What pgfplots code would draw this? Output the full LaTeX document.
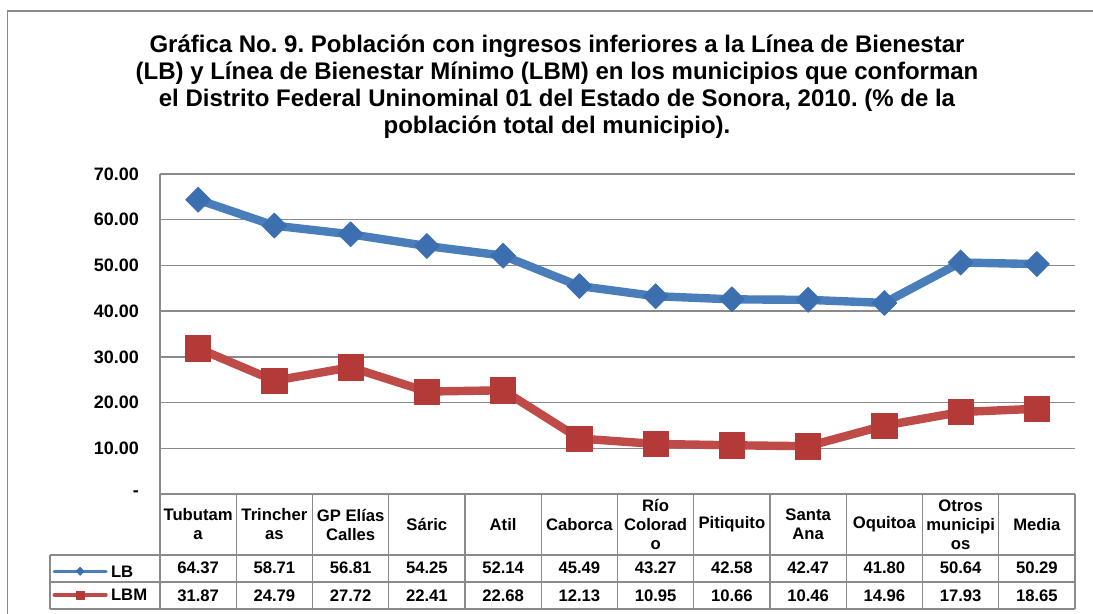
\documentclass[border=0pt]{standalone}
\usepackage{pgfplots}
\pgfplotsset{compat=1.18}
\usepackage{pgfplotstable}
\usepackage{fontspec}
\setmainfont{Liberation Sans}
\frenchspacing

\definecolor{lbblue}{HTML}{4A7EBB}
\definecolor{lbbluem}{HTML}{3C6FB0}
\definecolor{lbmred}{HTML}{BE4B48}
\definecolor{lbmredm}{HTML}{B43A37}
\definecolor{gridgray}{HTML}{8A8A8A}

% municipio index, LB, LBM (% de la poblacion)
\pgfplotstableread{
x  LB    LBM
0  64.37 31.87
1  58.71 24.79
2  56.81 27.72
3  54.25 22.41
4  52.14 22.68
5  45.49 12.13
6  43.27 10.95
7  42.58 10.66
8  42.47 10.46
9  41.80 14.96
10 50.64 17.93
11 50.29 18.65
}\datos

\tikzset{tabval/.style={font=\bfseries\fontsize{12.5}{14}\selectfont, inner sep=0pt}}

\begin{document}
\begin{tikzpicture}[x=0.75pt,y=0.75pt]
\useasboundingbox (0,0) rectangle (1093,614);
\draw[gridgray, line width=1pt] (7.5,0) -- (7.5,603) -- (1093,603);
\node[font=\bfseries\fontsize{18}{20.3}\selectfont, align=center] at (557,527)
  {Gráfica No. 9. Población con ingresos inferiores a la Línea de Bienestar\\
   (LB) y Línea de Bienestar Mínimo (LBM) en los municipios que conforman\\
   el Distrito Federal Uninominal 01 del Estado de Sonora, 2010. (\% de la\\
   población total del municipio).};
\begin{axis}[at={(120pt,90pt)}, anchor=south west, scale only axis,
  width=686.25pt, height=240pt, clip=false,
  xmin=-0.5, xmax=11.5, ymin=0, ymax=70,
  axis x line*=bottom, axis y line*=left,
  axis line style={gridgray, line width=1pt, -},
  major tick length=0pt,
  ymajorgrids, grid style={gridgray, line width=1pt},
  ytick={0,10,...,70},
  yticklabels={{-\hspace{7.5pt}},10.00,20.00,30.00,40.00,50.00,60.00,70.00},
  yticklabel style={font=\bfseries\fontsize{13.5}{15}\selectfont, xshift=-12.3pt},
  xtick={0,...,11},
  xticklabels={{Tubutam\\a},{Trincher\\as},{GP Elías\\Calles},Sáric,Atil,Caborca,
    {Río\\Colorad\\o},Pitiquito,{Santa\\Ana},Oquitoa,{Otros\\municipi\\os},Media},
  xticklabel style={align=center, anchor=center, yshift=-22.9pt,
    font=\bfseries\fontsize{12.5}{14.25}\selectfont},
  legend style={at={(-0.1220,-0.214)}, anchor=north west, draw=none, fill=none,
    font=\bfseries\fontsize{12.5}{14}\selectfont, row sep=9pt,
    nodes={inner sep=0pt, text height=8.8pt, text depth=0pt}},
  legend cell align=left,
  legend image code/.code={\draw[mark repeat=2, mark phase=2, #1]
    plot coordinates {(0pt,0pt) (19.5pt,0pt) (39pt,0pt)};},
  legend image post style={line width=2.3pt, mark size=3pt},
]
\addplot[lbblue, line width=6.3pt, line join=round, line cap=round,
  mark=diamond*, mark size=9.4pt,
  mark options={fill=lbbluem, draw=lbbluem, line width=0.5pt, xscale=1.33}]
  table[x=x, y=LB]{\datos};
\addlegendentry{\hspace{2.5pt}LB}
\addplot[lbmred, line width=6.3pt, line join=round, line cap=round,
  mark=square*, mark size=9.5pt,
  mark options={fill=lbmredm, draw=lbmredm, line width=0.5pt}]
  table[x=x, y=LBM]{\datos};
\addlegendentry{\hspace{2.5pt}LBM}

% data table under the plot
\draw[gridgray, line width=1pt] (axis cs:-1.943,-13.34) -- (axis cs:11.5,-13.34);
\draw[gridgray, line width=1pt] (axis cs:-1.943,-19.25) -- (axis cs:11.5,-19.25);
\draw[gridgray, line width=1pt] (axis cs:-1.943,-25.16) -- (axis cs:11.5,-25.16);
\draw[gridgray, line width=1pt] (axis cs:-1.943,-13.34) -- (axis cs:-1.943,-25.16);
\draw[gridgray, line width=1pt] (axis cs:-0.5,0) -- (axis cs:-0.5,-25.16);
\draw[gridgray, line width=1pt] (axis cs:11.5,0) -- (axis cs:11.5,-25.16);
\pgfplotsinvokeforeach{0.5,1.5,2.5,3.5,4.5,5.5,6.5,7.5,8.5,9.5,10.5}{
  \draw[gridgray, line width=1pt] (axis cs:#1,0) -- (axis cs:#1,-25.16);
}
\pgfplotsinvokeforeach{0,...,11}{
  \pgfplotstablegetelem{#1}{LB}\of\datos \let\vLB\pgfplotsretval
  \pgfplotstablegetelem{#1}{LBM}\of\datos \let\vLBM\pgfplotsretval
  \edef\temp{\noexpand\node[tabval] at (axis cs:#1,-16.2) {\vLB};
    \noexpand\node[tabval] at (axis cs:#1,-22.2) {\vLBM};}
  \temp
}
\end{axis}
\end{tikzpicture}
\end{document}
